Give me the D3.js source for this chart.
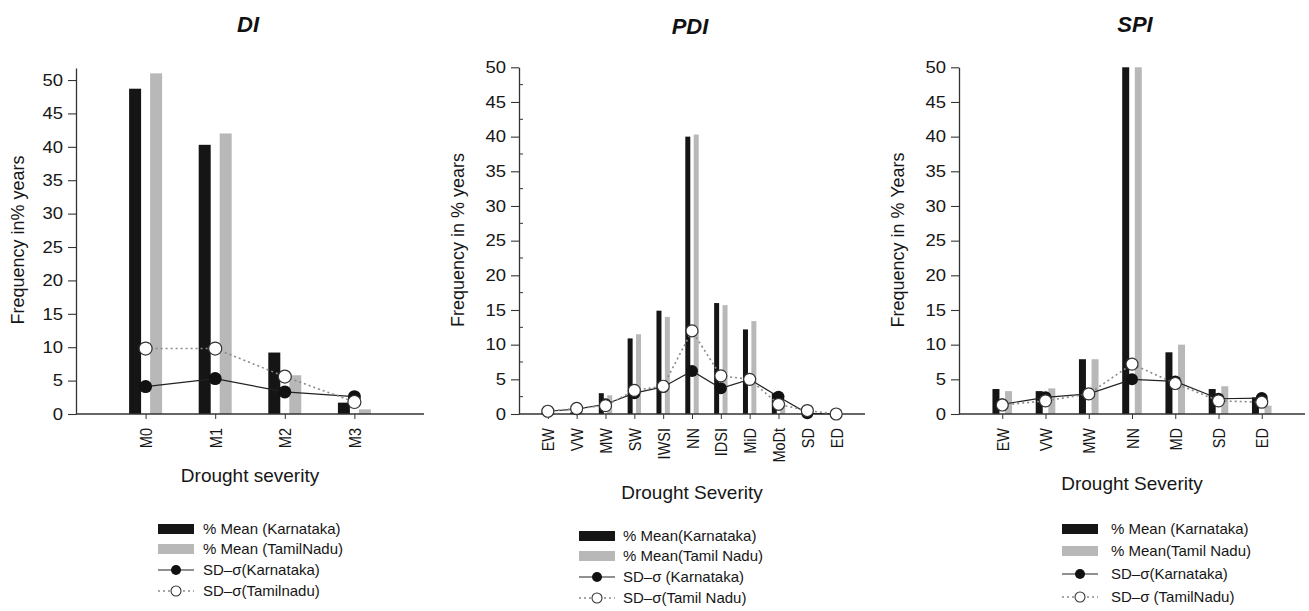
<!DOCTYPE html>
<html><head><meta charset="utf-8">
<script src="https://cdn.jsdelivr.net/npm/d3@7"></script>
<style>body{margin:0;background:#fff}svg{display:block;font-family:"Liberation Sans",Arial,sans-serif}</style>
</head><body><svg id="c" width="1309" height="611"></svg>
<script>
// ---- data ----
const diCats = ["M0","M1","M2","M3"];
const diMeanK = [48.7, 40.3, 9.2, 1.7];
const diMeanTN = [51.0, 42.0, 5.8, 0.7];
const diSdK = [4.1, 5.3, 3.3, 2.6];
const diSdTN = [9.8, 9.8, 5.6, 1.8];

const pdiCats = ["EW","VW","MW","SW","IWSI","NN","IDSI","MiD","MoDt","SD","ED"];
const pdiMeanK = [0.2, 0.2, 3.0, 10.9, 14.9, 40.0, 16.0, 12.2, 3.0, 0, 0];
const pdiMeanTN = [0.2, 0.2, 2.7, 11.5, 14.0, 40.3, 15.7, 13.4, 1.5, 0, 0];
const pdiSdK = [0.4, 0.7, 1.4, 3.0, 3.9, 6.2, 3.7, 5.0, 2.5, 0.1, 0];
const pdiSdTN = [0.4, 0.8, 1.2, 3.4, 4.0, 12.0, 5.5, 5.0, 1.4, 0.5, 0.0];

const spiCats = ["EW","VW","MW","NN","MD","SD","ED"];
const spiMeanK = [3.6, 3.3, 7.9, 50.0, 8.9, 3.6, 2.4];
const spiMeanTN = [3.3, 3.7, 7.9, 50.0, 10.0, 4.0, 1.2];
const spiSdK = [1.4, 2.4, 2.9, 5.0, 4.7, 2.2, 2.3];
const spiSdTN = [1.3, 1.9, 2.9, 7.2, 4.4, 1.9, 1.7];

const yTicks = [0,5,10,15,20,25,30,35,40,45,50];
const diLegend = ["% Mean (Karnataka)","% Mean (TamilNadu)","SD\u2013\u03c3(Karnataka)","SD\u2013\u03c3(Tamilnadu)"];
const pdiLegend = ["% Mean(Karnataka)","% Mean(Tamil Nadu)","SD\u2013\u03c3 (Karnataka)","SD\u2013\u03c3(Tamil Nadu)"];
const spiLegend = ["% Mean (Karnataka)","% Mean(Tamil Nadu)","SD\u2013\u03c3(Karnataka)","SD\u2013\u03c3 (TamilNadu)"];

// ---- layout / style ----
const panels = [
  {title:"DI", cats:diCats, k:diMeanK, tn:diMeanTN, sk:diSdK, st:diSdTN, legend:diLegend,
   x0:76, x1:424, yMax:51.8, yTopPx:68, barW:12, off:10.5, minor:false, r:6.5,
   ytitle:"Frequency in% years", ytX:18, xtitle:"Drought severity", xtY:482, tX:248, tY:32,
   lgX:158, lgY:[529,549,570,591], lgTx:203},
  {title:"PDI", cats:pdiCats, k:pdiMeanK, tn:pdiMeanTN, sk:pdiSdK, st:pdiSdTN, legend:pdiLegend,
   x0:519, x1:865, yMax:50, yTopPx:67.3, barW:5, off:4.2, minor:true, r:6,
   ytitle:"Frequency in % years", ytX:458, xtitle:"Drought Severity", xtY:499, tX:690, tY:34,
   lgX:579, lgY:[536,556,577,598], lgTx:623},
  {title:"SPI", cats:spiCats, k:spiMeanK, tn:spiMeanTN, sk:spiSdK, st:spiSdTN, legend:spiLegend,
   x0:959, x1:1305, yMax:50, yTopPx:67.3, barW:7, off:6.3, minor:false, r:6,
   ytitle:"Frequency in % Years", ytX:898, xtitle:"Drought Severity", xtY:490, tX:1135, tY:32,
   lgX:1062, lgY:[529,551,574,597], lgTx:1111}
];
const BLACK="#151515", GRAY="#b8b8b8", AX="#333", TXT="#161616";
const FONT='"Liberation Sans",Arial,sans-serif';
const svg = d3.select("#c");

panels.forEach(p => {
  const g = svg.append("g");
  const x = d3.scalePoint().domain(p.cats).range([p.x0, p.x1]).padding(1);
  const y = d3.scaleLinear().domain([0, p.yMax]).range([414, p.yTopPx]);

  // bars
  g.selectAll(".bk").data(p.cats).join("rect")
    .attr("x", c => x(c) - p.off - p.barW/2).attr("width", p.barW)
    .attr("y", (c,i) => y(p.k[i])).attr("height", (c,i) => y(0) - y(p.k[i]))
    .attr("fill", BLACK);
  g.selectAll(".bt").data(p.cats).join("rect")
    .attr("x", c => x(c) + p.off - p.barW/2).attr("width", p.barW)
    .attr("y", (c,i) => y(p.tn[i])).attr("height", (c,i) => y(0) - y(p.tn[i]))
    .attr("fill", GRAY);

  // axes
  const ya = g.append("g").attr("transform", `translate(${p.x0},0)`)
    .call(d3.axisLeft(y).tickValues(yTicks).tickSize(8).tickPadding(5).tickSizeOuter(0));
  ya.select(".domain").attr("stroke", AX).attr("stroke-width", 1.3);
  ya.selectAll(".tick line").attr("stroke", AX).attr("stroke-width", 1.1);
  ya.selectAll(".tick text").attr("font-size", 16.5).attr("fill", TXT).attr("font-family", FONT)
    .attr("x", 0).attr("transform", "translate(-13,0) scale(1.12,1)");
  if (p.minor) {
    const mt = d3.range(2.5, 50, 5);
    g.selectAll(".mt").data(mt).join("line")
      .attr("x1", p.x0).attr("x2", p.x0 + 4).attr("y1", d => y(d)).attr("y2", d => y(d))
      .attr("stroke", AX).attr("stroke-width", 1);
  }
  const xa = g.append("g").attr("transform", "translate(0,414)")
    .call(d3.axisBottom(x).tickSize(5).tickSizeOuter(0));
  xa.select(".domain").attr("stroke", AX).attr("stroke-width", 1.3).attr("d", `M${p.x0},0H${p.x1}`);
  xa.selectAll(".tick line").attr("stroke", AX);
  xa.selectAll(".tick text").attr("font-size", 14.5).attr("fill", TXT).attr("font-family", FONT)
    .attr("text-anchor", "end").attr("transform", "translate(0,14) scale(1.18,1) rotate(-90)")
    .attr("x", 0).attr("y", 0).attr("dy", "0.35em");

  // SD lines
  const line = d3.line().x((d,i) => x(p.cats[i])).y(d => y(d));
  g.append("path").attr("d", line(p.sk)).attr("fill", "none").attr("stroke", "#222").attr("stroke-width", 1.2);
  g.selectAll(".ck").data(p.sk).join("circle")
    .attr("cx", (d,i) => x(p.cats[i])).attr("cy", d => y(d)).attr("r", p.r).attr("fill", "#111");
  g.append("path").attr("d", line(p.st)).attr("fill", "none").attr("stroke", "#8a8a8a")
    .attr("stroke-width", 1.6).attr("stroke-dasharray", "2,3");
  g.selectAll(".ct").data(p.st).join("circle")
    .attr("cx", (d,i) => x(p.cats[i])).attr("cy", d => y(d)).attr("r", p.r)
    .attr("fill", "#fff").attr("stroke", "#333").attr("stroke-width", 1.2);

  // titles
  g.append("text").attr("x", p.tX).attr("y", p.tY).attr("text-anchor", "middle")
    .attr("font-size", 22).attr("font-weight", "bold").attr("font-style", "italic").attr("fill", "#111").text(p.title);
  g.append("text").attr("transform", `translate(${p.ytX},240) rotate(-90)`).attr("text-anchor", "middle")
    .attr("dy", "0.35em").attr("font-size", 18).attr("fill", TXT).text(p.ytitle);
  g.append("text").attr("x", (p.x0 + p.x1)/2).attr("y", p.xtY).attr("text-anchor", "middle")
    .attr("font-size", 19).attr("fill", TXT).text(p.xtitle);

  // legend
  const sw = 36;
  const lg = g.append("g");
  [BLACK, GRAY].forEach((col, i) => {
    lg.append("rect").attr("x", p.lgX).attr("y", p.lgY[i] - 5).attr("width", sw).attr("height", 10).attr("fill", col);
  });
  lg.append("line").attr("x1", p.lgX).attr("x2", p.lgX + sw).attr("y1", p.lgY[2]).attr("y2", p.lgY[2])
    .attr("stroke", "#222").attr("stroke-width", 1.2);
  lg.append("circle").attr("cx", p.lgX + sw/2).attr("cy", p.lgY[2]).attr("r", 5).attr("fill", "#111");
  lg.append("line").attr("x1", p.lgX).attr("x2", p.lgX + sw).attr("y1", p.lgY[3]).attr("y2", p.lgY[3])
    .attr("stroke", "#8a8a8a").attr("stroke-width", 1.4).attr("stroke-dasharray", "2,3");
  lg.append("circle").attr("cx", p.lgX + sw/2).attr("cy", p.lgY[3]).attr("r", 5)
    .attr("fill", "#fff").attr("stroke", "#333").attr("stroke-width", 1.1);
  p.legend.forEach((t, i) => {
    lg.append("text").attr("x", p.lgTx).attr("y", p.lgY[i]).attr("dy", "0.35em")
      .attr("font-size", 15).attr("fill", TXT).text(t);
  });
});
</script></body></html>
